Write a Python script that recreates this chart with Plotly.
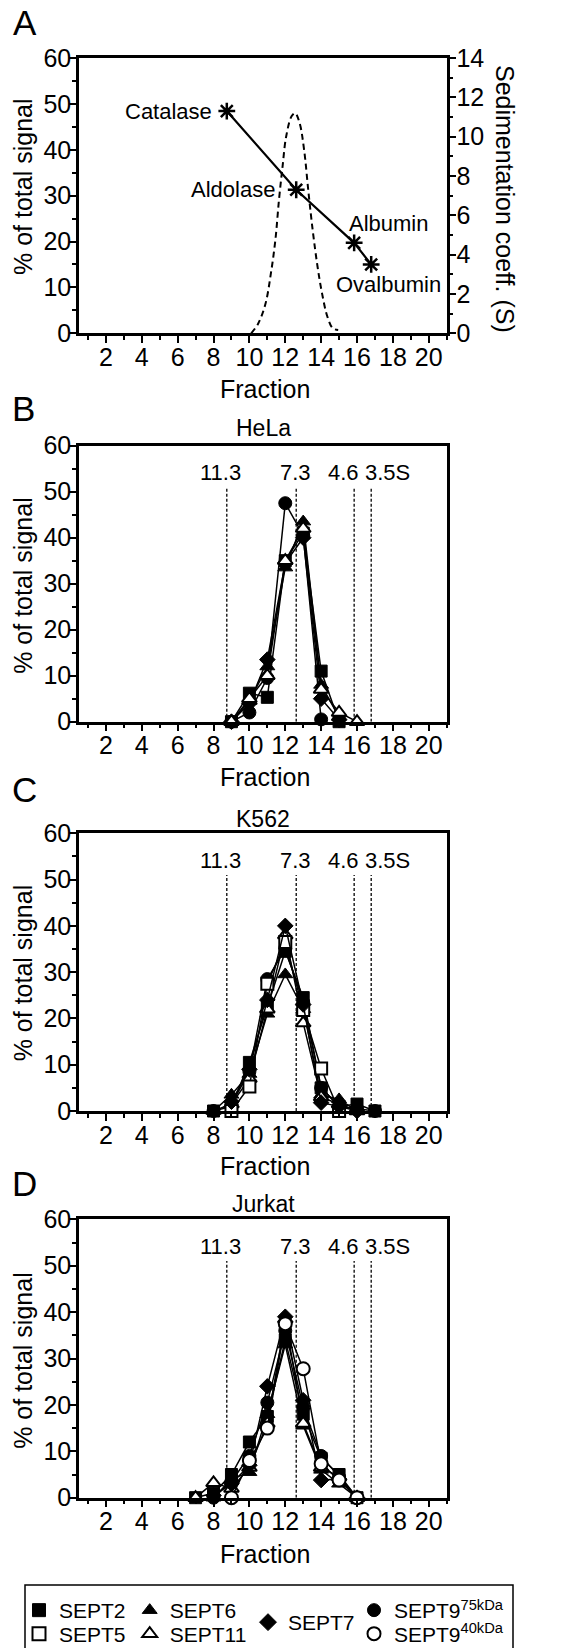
import plotly.graph_objects as go

W, H = 586, 1648
FONT = "Arial, Liberation Sans, sans-serif"


def px(x):
    return x / W


def py(y):
    return 1 - y / H


# ---------------- data ----------------
# Panel A: calibration profile (dashed) and sedimentation standards
calib_frac = [10.1, 10.5, 10.9, 11.2, 11.45, 11.65, 11.85, 12.05, 12.35, 12.55,
              12.8, 13.05, 13.3, 13.55, 13.8, 14.05, 14.35, 14.65, 14.95]
calib_signal = [0, 2.2, 6.5, 13.1, 20.4, 29.1, 36.4, 42.9, 47.3, 48.0,
                45.8, 40.0, 30.5, 21.8, 14.5, 8.7, 3.6, 1.1, 0.7]
standards = ["Catalase", "Aldolase", "Albumin", "Ovalbumin"]
std_frac = [8.74, 12.61, 15.84, 16.79]
std_s = [11.3, 7.3, 4.6, 3.5]
std_tags = ["11.3", "7.3", "4.6", "3.5S"]

# Panel B: HeLa
hela_x = [9, 10, 11, 12, 13, 14, 15, 16]
hela_sept2 = [0, 6.2, 5.3, 35, 41, 11, 0, None]
hela_sept6 = [0, 4.5, 12, 33.5, 43.5, 8, 1, None]
hela_sept7 = [0, 4, 13.5, 34.5, 40, 5, 0.5, None]
hela_sept9_75 = [0, 2, 9.5, 47.5, 40.5, 0.5, None, None]
hela_sept11 = [0, 5, 10, 35, 42, 7, 2, 0]

# Panel C: K562
k562_x = [8, 9, 10, 11, 12, 13, 14, 15, 16, 17]
k562_sept2 = [0, 1, 10.5, 22.5, 34.5, 24.5, 5, 1, 1.5, 0]
k562_sept6 = [0, 3.5, 8, 21, 29.5, 22, 3.5, 2.5, 0, None]
k562_sept7 = [None, 2, 9, 24, 40, 23, 1.8, 1, 0, None]
k562_sept9_75 = [0, 1.5, 8.5, 28.5, 35, 23.5, 5, 1, 0.5, 0]
k562_sept11 = [None, 1.5, 7, 22, 38, 19, 3, 1.5, 0, None]
k562_sept5 = [None, 0, 5.3, 27.5, 36.5, 21.8, 9.2, 0, None, None]

# Panel D: Jurkat
jurkat_x = [7, 8, 9, 10, 11, 12, 13, 14, 15, 16]
jurkat_sept2 = [0, 1, 5, 12, 17.5, 34, 18, 8.5, 5, 0]
jurkat_sept6 = [None, 0, 4, 5.5, 18, 33, 15.5, 6, 3, 0]
jurkat_sept7 = [None, 0.5, 3, 7, 24, 39, 21, 3.8, 4, 0]
jurkat_sept9_75 = [None, 0, 3.5, 9, 20.5, 36, 19.5, 9, 4.5, 0]
jurkat_sept11 = [0, 3.2, 2, 6.5, 16, 38.5, 16, 6.5, 4.5, 0]
jurkat_sept9_40 = [None, None, 0, 8, 15, 37.5, 27.8, 7.3, 3.8, 0]

cell_lines = ["HeLa", "K562", "Jurkat"]
panel_letters = ["A", "B", "C", "D"]

# ---------------- styles ----------------
STY = {
    "SEPT2": dict(symbol="square", color="black"),
    "SEPT5": dict(symbol="square", color="white"),
    "SEPT6": dict(symbol="triangle-up", color="black"),
    "SEPT11": dict(symbol="triangle-up", color="white"),
    "SEPT7": dict(symbol="diamond", color="black"),
    "SEPT9_75": dict(symbol="circle", color="black"),
    "SEPT9_40": dict(symbol="circle", color="white"),
}
LABEL = {
    "SEPT2": "SEPT2", "SEPT5": "SEPT5", "SEPT6": "SEPT6", "SEPT11": "SEPT11",
    "SEPT7": "SEPT7", "SEPT9_75": "SEPT9<sup>75kDa</sup>",
    "SEPT9_40": "SEPT9<sup>40kDa</sup>",
}
SIZE = {"square": 12, "triangle-up": 13, "diamond": 12, "circle": 13}


def marker(key, size=None):
    s = STY[key]
    return dict(symbol=s["symbol"], color=s["color"],
                size=size or SIZE[s["symbol"]],
                line=dict(color="black", width=2 if s["color"] == "white" else 1))


fig = go.Figure()

# ---------------- panel A ----------------
fig.add_trace(go.Scatter(x=calib_frac, y=calib_signal, mode="lines",
                         line=dict(color="black", width=2, dash="6px,4px", shape="spline"),
                         xaxis="x", yaxis="y", showlegend=False, cliponaxis=False))
fig.add_trace(go.Scatter(x=std_frac, y=std_s, mode="lines+markers",
                         line=dict(color="black", width=2.2),
                         marker=dict(symbol="asterisk-open", size=14,
                                     line=dict(color="black", width=2.5)),
                         xaxis="x", yaxis="y5", showlegend=False, cliponaxis=False))

# ---------------- panels B-D ----------------
panels = [
    (2, hela_x, [("SEPT2", hela_sept2), ("SEPT6", hela_sept6), ("SEPT7", hela_sept7),
                 ("SEPT9_75", hela_sept9_75), ("SEPT11", hela_sept11)]),
    (3, k562_x, [("SEPT2", k562_sept2), ("SEPT6", k562_sept6), ("SEPT9_75", k562_sept9_75),
                 ("SEPT11", k562_sept11), ("SEPT5", k562_sept5), ("SEPT7", k562_sept7)]),
    (4, jurkat_x, [("SEPT2", jurkat_sept2), ("SEPT6", jurkat_sept6), ("SEPT11", jurkat_sept11),
                   ("SEPT9_75", jurkat_sept9_75), ("SEPT7", jurkat_sept7),
                   ("SEPT9_40", jurkat_sept9_40)]),
]
for i, xs, series in panels:
    for key, ys in series:
        fig.add_trace(go.Scatter(x=xs, y=ys, mode="lines+markers",
                                 line=dict(color="black", width=1.5),
                                 marker=marker(key), xaxis=f"x{i}", yaxis=f"y{i}",
                                 showlegend=False, cliponaxis=False))

# ---------------- legend (one legend per entry) ----------------
leg_items = [
    ("SEPT2", 41, 1610.5), ("SEPT5", 41, 1634),
    ("SEPT6", 151.7, 1610.5), ("SEPT11", 151.7, 1634),
    ("SEPT7", 270, 1622.5),
    ("SEPT9_75", 376, 1610.5), ("SEPT9_40", 376, 1634),
]
legend_layout = {}
for n, (key, cx, cy) in enumerate(leg_items):
    lname = "legend" if n == 0 else f"legend{n + 1}"
    fig.add_trace(go.Scatter(x=[None], y=[None], mode="markers",
                             marker=marker(key, 13), name=LABEL[key],
                             legend=lname, showlegend=True))
    legend_layout[lname] = dict(
        x=px(cx - 22), y=py(cy), xanchor="left", yanchor="middle",
        bgcolor="rgba(0,0,0,0)", borderwidth=0, itemsizing="trace",
        font=dict(size=21, family=FONT, color="black"), itemclick=False,
        itemdoubleclick=False)

# ---------------- axes ----------------
XDOM = [px(79), px(446.7)]
YDOMS = {
    1: [py(333.3), py(58)],
    2: [py(721.7), py(445.7)],
    3: [py(1111), py(833.3)],
    4: [py(1497.7), py(1219.3)],
}
tickfont = dict(size=25, family=FONT, color="black")


def xaxis(i):
    return dict(domain=XDOM, range=[0.5, 21], tick0=0, dtick=2, ticks="outside",
                ticklen=7, tickwidth=2, tickcolor="black", showline=True,
                linewidth=2.5, linecolor="black", mirror=True, showgrid=False,
                zeroline=False, tickfont=tickfont, anchor=f"y{'' if i == 1 else i}",
                ticklabelstandoff=-7,
                minor=dict(dtick=1, tick0=0, ticks="outside", ticklen=4, tickwidth=2,
                           tickcolor="black", showgrid=False),
                fixedrange=True)


def yaxis(i):
    return dict(domain=YDOMS[i], range=[0, 60], tick0=0, dtick=10, ticks="outside",
                ticklen=7, tickwidth=2, tickcolor="black", showline=True,
                linewidth=2.5, linecolor="black", mirror=True, showgrid=False,
                zeroline=False, tickfont=tickfont, anchor=f"x{'' if i == 1 else i}",
                ticklabelstandoff=-7,
                minor=dict(dtick=5, tick0=0, ticks="outside", ticklen=4, tickwidth=2,
                           tickcolor="black", showgrid=False),
                fixedrange=True)


layout = dict(
    width=W, height=H, autosize=False,
    margin=dict(l=0, r=0, t=0, b=0, pad=0, autoexpand=False),
    paper_bgcolor="white", plot_bgcolor="white",
    font=dict(family=FONT, color="black"),
    xaxis=xaxis(1), yaxis=yaxis(1),
    xaxis2=xaxis(2), yaxis2=yaxis(2),
    xaxis3=xaxis(3), yaxis3=yaxis(3),
    xaxis4=xaxis(4), yaxis4=yaxis(4),
    yaxis5=dict(overlaying="y", side="right", anchor="x", range=[0, 14], tick0=0,
                dtick=2, ticks="outside", ticklen=7, tickwidth=2, tickcolor="black",
                showline=True, linewidth=2.5, linecolor="black", showgrid=False,
                zeroline=False, tickfont=tickfont, ticklabelstandoff=-5,
                minor=dict(dtick=1, tick0=0, ticks="outside", ticklen=4, tickwidth=2,
                           tickcolor="black", showgrid=False),
                fixedrange=True),
)
layout.update(legend_layout)
fig.update_layout(**layout)

# ---------------- shapes ----------------
shapes = []
for i in (2, 3, 4):
    for f in std_frac:
        shapes.append(dict(type="line", xref=f"x{i}", yref=f"y{i}", x0=f, x1=f,
                           y0=0, y1=51, line=dict(color="black", width=1.3, dash="3px,2px"),
                           layer="below"))
shapes.append(dict(type="rect", xref="paper", yref="paper", x0=px(25), x1=px(513),
                   y0=py(1665), y1=py(1585), line=dict(color="black", width=1.5)))
fig.update_layout(shapes=shapes)

# ---------------- annotations ----------------
ann = []
letter_pos = [(25, 22.5), (23, 408), (24, 789), (24, 1183)]
for letter, (lx, ly) in zip(panel_letters, letter_pos):
    ann.append(dict(text=letter, x=px(lx), y=py(ly), xref="paper", yref="paper",
                    xanchor="center", yanchor="middle", showarrow=False,
                    font=dict(size=35, family=FONT)))

for title, ty in zip(cell_lines, [428.5, 818.5, 1204]):
    ann.append(dict(text=title, x=px(263), y=py(ty), xref="paper", yref="paper",
                    xanchor="center", yanchor="middle", showarrow=False,
                    font=dict(size=23, family=FONT)))

for fy in [389, 776.5, 1166, 1554]:
    ann.append(dict(text="Fraction", x=px(265), y=py(fy), xref="paper", yref="paper",
                    xanchor="center", yanchor="middle", showarrow=False,
                    font=dict(size=25, family=FONT)))

for yy in [187, 585.8, 973.3, 1360.8]:
    ann.append(dict(text="% of total signal", x=px(23), y=py(yy), xref="paper",
                    yref="paper", xanchor="center", yanchor="middle", textangle=-90,
                    showarrow=False, font=dict(size=25, family=FONT)))

ann.append(dict(text="Sedimentation coeff. (S)", x=px(505), y=py(199), xref="paper",
                yref="paper", xanchor="center", yanchor="middle", textangle=90,
                showarrow=False, font=dict(size=25, family=FONT)))

std_anchor = ["right", "right", "left", "center"]
std_xshift = [-13, -19, -7, 17]
std_yshift = [0, 0, 19, -20]
for name, f, s, xa, xs_, ys_ in zip(standards, std_frac, std_s, std_anchor,
                                     std_xshift, std_yshift):
    ann.append(dict(text=name, x=f, y=s, xref="x", yref="y5", xanchor=xa,
                    yanchor="middle", xshift=xs_, yshift=ys_, showarrow=False,
                    font=dict(size=22, family=FONT)))

tag_xshift = [-6.7, -0.9, -10.7, 16.3]
for i in (2, 3, 4):
    for tag, f, xs_ in zip(std_tags, std_frac, tag_xshift):
        ann.append(dict(text=tag, x=f, y=54.2, xref=f"x{i}", yref=f"y{i}",
                        xanchor="center", yanchor="middle", xshift=xs_,
                        showarrow=False, font=dict(size=22, family=FONT)))

fig.update_layout(annotations=ann)

fig.write_html("out.html", config={"displayModeBar": False},
               post_script="document.body.style.margin='0';document.body.style.padding='0';")
